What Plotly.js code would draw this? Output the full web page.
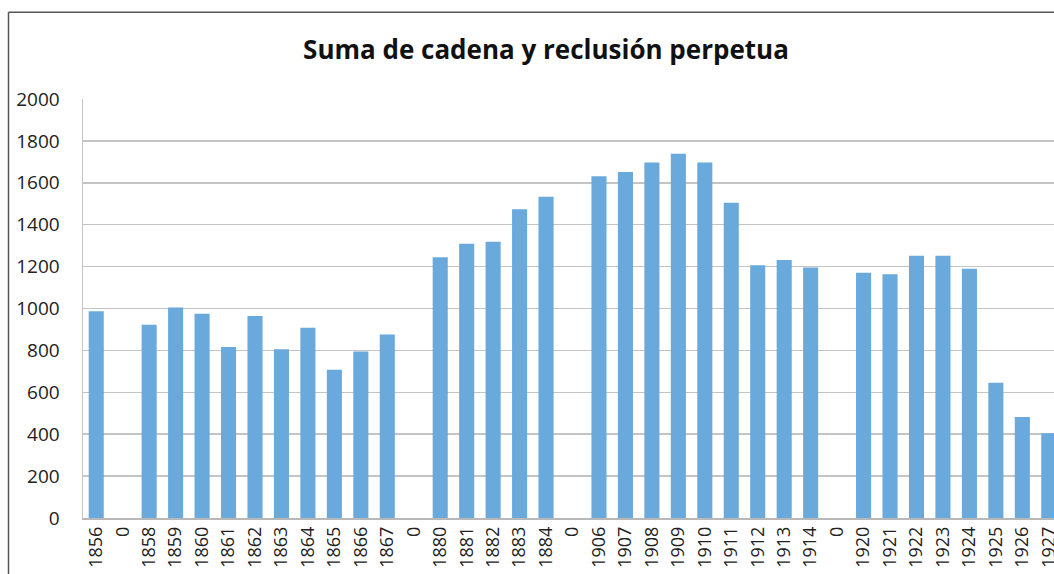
<!DOCTYPE html>
<html>
<head>
<meta charset="utf-8">
<script src="https://cdn.plot.ly/plotly-3.0.1.min.js"></script>
<style>
html,body{margin:0;padding:0;background:#fff;}
#chart{width:1054px;height:574px;}
</style>
</head>
<body>
<div id="chart"></div>
<script>
// Category labels as shown under the bars ("0" marks empty slots)
var categories = ["1856","0","1858","1859","1860","1861","1862","1863","1864","1865","1866","1867","0",
  "1880","1881","1882","1883","1884","0",
  "1906","1907","1908","1909","1910","1911","1912","1913","1914","0",
  "1920","1921","1922","1923","1924","1925","1926","1927"];
// Suma de cadena y reclusión perpetua
var values = [987,0,922,1005,975,816,964,805,908,708,795,876,0,
  1245,1309,1319,1474,1534,0,
  1631,1651,1697,1739,1697,1505,1206,1231,1196,0,
  1171,1164,1252,1252,1190,646,482,405];
var yTicks = [0,200,400,600,800,1000,1200,1400,1600,1800,2000];

var positions = categories.map(function(_, i){ return i; });

var trace = {
  type: 'bar',
  x: positions,
  y: values,
  width: 0.57,
  marker: {color: '#6aa9db', line: {width: 0}},
  hoverinfo: 'skip'
};

var layout = {
  width: 1054, height: 574,
  margin: {l: 83, r: 0, t: 99, b: 56},
  paper_bgcolor: '#ffffff',
  plot_bgcolor: '#ffffff',
  showlegend: false,
  font: {family: 'Open Sans, sans-serif', color: '#222'},
  title: {
    text: '<b>Suma de cadena y reclusión perpetua</b>',
    font: {size: 26, color: '#111', family: 'Open Sans, sans-serif'},
    x: 0.518, xanchor: 'center',
    y: 1 - 50/574, yanchor: 'middle'
  },
  xaxis: {
    range: [-0.5, -0.5 + 971/26.46],
    tickmode: 'array',
    tickvals: positions,
    ticktext: categories,
    tickangle: -90,
    ticks: '',
    ticklabeloverflow: 'allow',
    tickfont: {size: 18, color: '#222'},
    showgrid: false,
    showline: true,
    linecolor: '#b8b8b8',
    linewidth: 1.5,
    zeroline: false,
    fixedrange: true
  },
  yaxis: {
    range: [0, 2000],
    tickmode: 'array',
    tickvals: yTicks,
    ticktext: yTicks.map(String),
    ticks: 'outside',
    ticklen: 18,
    tickcolor: 'rgba(0,0,0,0)',
    tickfont: {size: 19, color: '#222'},
    showgrid: true,
    gridcolor: '#c4c4c4',
    gridwidth: 1.5,
    showline: true,
    linecolor: '#c4c4c4',
    linewidth: 1.5,
    zeroline: false,
    fixedrange: true
  },
  shapes: [
    {type: 'line', xref: 'paper', yref: 'paper',
     x0: (8.5-83)/971, x1: (8.5-83)/971, y0: (517-574)/418, y1: (517-12.5)/418,
     line: {color: '#555', width: 1.5}},
    {type: 'line', xref: 'paper', yref: 'paper',
     x0: (8.5-83)/971, x1: 1.01, y0: (517-12.5)/418, y1: (517-12.5)/418,
     line: {color: '#555', width: 1.5}}
  ]
};

Plotly.newPlot('chart', [trace], layout, {displayModeBar: false, staticPlot: true});
</script>
</body>
</html>
